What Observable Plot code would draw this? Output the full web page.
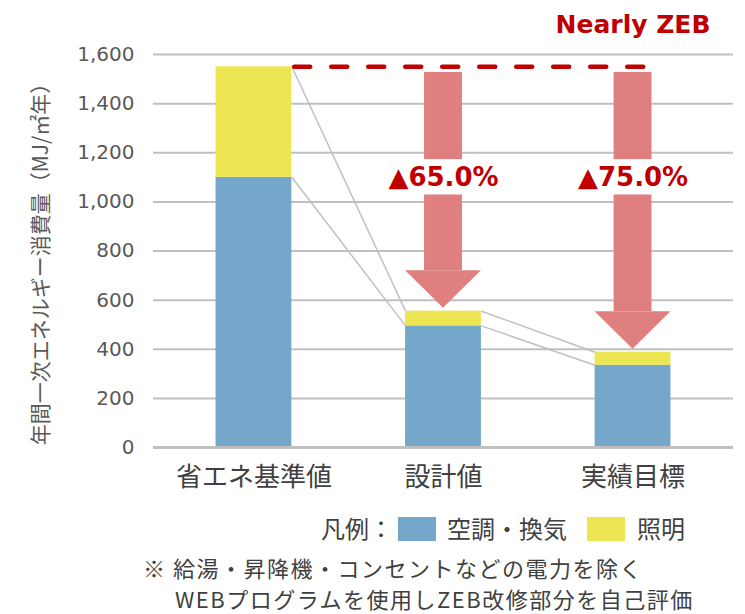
<!DOCTYPE html>
<html><head><meta charset="utf-8">
<script src="https://cdn.jsdelivr.net/npm/d3@7"></script>
<script src="https://cdn.jsdelivr.net/npm/@observablehq/plot@0.6"></script>
<style>
body{margin:0;background:#fff;}
#wrap{position:relative;width:745px;height:614px;font-family:"Noto Sans CJK JP",sans-serif;color:#404040;overflow:hidden;}
#wrap svg{position:absolute;left:0;top:0;}
.t{position:absolute;font-size:24px;line-height:24px;height:24px;white-space:nowrap;}
.n{font-size:22px;line-height:22px;height:22px;letter-spacing:1.5px;}
.sw{position:absolute;width:38px;height:24px;}
</style></head><body><div id="wrap"></div>
<script>
const categories = ["省エネ基準値", "設計値", "実績目標"];
const hvac = [1100, 495, 335];
const lighting = [450, 60, 53];
const reductions = [null, "▲65.0%", "▲75.0%"];
const yTicks = [0, 200, 400, 600, 800, 1000, 1200, 1400, 1600];
const seriesNames = ["空調・換気", "照明"];
const seriesColors = ["#75A7CB", "#EBE651"];
const yTitle = "年間一次エネルギー消費量（MJ/㎡年）";
const zebLabel = "Nearly ZEB";
const legendTitle = "凡例：";
const notes = ["※ 給湯・昇降機・コンセントなどの電力を除く", "WEBプログラムを使用しZEB改修部分を自己評価"];

const RED = "#C00000", ARROW = "#E07F7F", GRID = "#C0C0C0";
const hw = 0.2, sw = 0.1;           // bar / shaft half-width in x units
const totals = hvac.map((v, i) => v + lighting[i]);
const shaftTop = totals[0] - 23;
const labelY = 1100, gap = 72, headH = 153, tipGap = 12;

const segs = [];
categories.forEach((c, i) => {
  segs.push({i, y1: 0, y2: hvac[i], s: 0});
  segs.push({i, y1: hvac[i], y2: totals[i], s: 1});
});
const links = [];
for (let i = 0; i < categories.length - 1; i++) {
  links.push({x1: i + hw, x2: i + 1 - hw, y1: totals[i], y2: totals[i + 1]});
  links.push({x1: i + hw, x2: i + 1 - hw, y1: hvac[i], y2: hvac[i + 1]});
}
const shafts = [], heads = [], labels = [];
reductions.forEach((r, i) => {
  if (!r) return;
  const tip = totals[i] + tipGap, base = tip + headH;
  shafts.push({i, y1: labelY + gap, y2: shaftTop});
  shafts.push({i, y1: base, y2: labelY - gap});
  heads.push({k: i, x: i - hw, y1: base, y2: base});
  heads.push({k: i, x: i, y1: tip, y2: base});
  heads.push({k: i, x: i + hw, y1: base, y2: base});
  labels.push({i, r});
});

const chart = Plot.plot({
  width: 745, height: 505,
  marginLeft: 153, marginRight: 12, marginTop: 54, marginBottom: 58,
  style: {fontFamily: "DejaVu Sans, sans-serif", background: "transparent"},
  x: {domain: [-0.53, 2.53], axis: null},
  y: {domain: [0, 1600], axis: null},
  marks: [
    Plot.ruleY(yTicks.filter(t => t > 0), {stroke: GRID, strokeWidth: 2}),
    Plot.rect(segs, {x1: d => d.i - hw, x2: d => d.i + hw, y1: "y1", y2: "y2", fill: d => seriesColors[d.s]}),
    Plot.ruleY([0], {stroke: GRID, strokeWidth: 3}),
    Plot.link(links, {x1: "x1", x2: "x2", y1: "y1", y2: "y2", stroke: GRID, strokeWidth: 1.5}),
    Plot.ruleY([totals[0]], {x1: () => 0 + hw + 0.015, x2: () => 2 + sw - 0.01, stroke: RED, strokeWidth: 4.5, strokeDasharray: "16,21", strokeLinecap: "round"}),
    Plot.rect(shafts, {x1: d => d.i - sw, x2: d => d.i + sw, y1: "y1", y2: "y2", fill: ARROW}),
    Plot.area(heads, {x1: "x", y1: "y1", y2: "y2", z: "k", fill: ARROW, curve: "linear"}),
    Plot.text(labels, {x: "i", y: () => labelY, text: "r", fill: RED, fontWeight: "bold", fontSize: 26}),
    Plot.text([zebLabel], {x: () => 2, y: () => 1720, text: d => d, fill: RED, fontWeight: "bold", fontSize: 25}),
    Plot.axisY({ticks: yTicks, tickSize: 0, tickPadding: 19, fontSize: 20, color: "#595959", label: null}),
    Plot.text([yTitle], {frameAnchor: "left", textAnchor: "middle", dx: -112, dy: 8, rotate: -90, text: d => d, fontSize: 21, fill: "#595959", fontFamily: "Noto Sans CJK JP"}),
    Plot.text(categories, {x: (d, i) => i, frameAnchor: "bottom", dy: 38, text: d => d, fontSize: 26, fill: "#404040", fontFamily: "Noto Sans CJK JP"})
  ]
});
const wrap = document.getElementById("wrap");
wrap.appendChild(chart);

function addText(txt, left, top, extra) {
  const d = document.createElement("div");
  d.className = "t" + (extra ? " " + extra : ""); d.textContent = txt;
  d.style.left = left + "px"; d.style.top = top + "px";
  wrap.appendChild(d);
}
function addSwatch(color, left, top) {
  const d = document.createElement("div");
  d.className = "sw"; d.style.background = color;
  d.style.left = left + "px"; d.style.top = top + "px";
  wrap.appendChild(d);
}
addText(legendTitle, 321, 516);
addSwatch(seriesColors[0], 398, 517);
addText(seriesNames[0], 447, 516);
addSwatch(seriesColors[1], 587, 517);
addText(seriesNames[1], 637, 516);
addText(notes[0], 143, 556, "n");
addText(notes[1], 175, 587, "n");
</script></body></html>
